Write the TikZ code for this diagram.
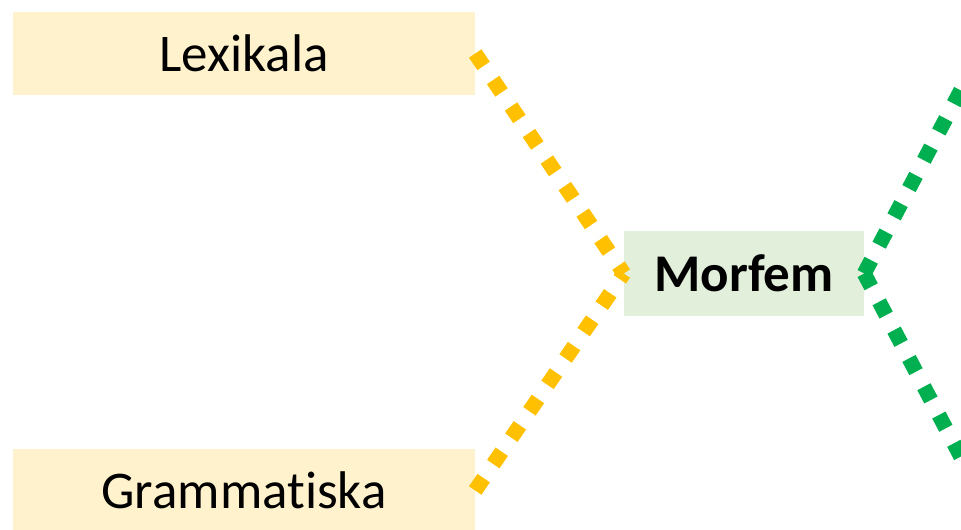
\documentclass[tikz,border=0pt]{standalone}
\usepackage{fontspec}
\setmainfont{Carlito}[Ligatures={NoCommon}]
\definecolor{boxyellow}{HTML}{FFF2CC}
\definecolor{boxgreen}{HTML}{E2EFDA}
\definecolor{lineyellow}{HTML}{FFC000}
\definecolor{linegreen}{HTML}{00B050}
\begin{document}
\begin{tikzpicture}[x=1pt,y=-1pt,
  catbox/.style={fill=boxyellow, draw=none, minimum width=462pt, minimum height=83pt, inner sep=0pt, font=\fontsize{53}{62}\selectfont},
  mainbox/.style={fill=boxgreen, draw=none, minimum width=240pt, minimum height=85pt, inner sep=0pt, font=\fontsize{53}{62}\selectfont\bfseries},
  yconn/.style={draw=lineyellow, line width=15pt, dash pattern=on 15pt off 17pt},
  gconn/.style={draw=linegreen, line width=15pt, dash pattern=on 15pt off 17pt}]
\clip (0,0) rectangle (961,530);
\node[catbox] (lex) at (244,53.5) {Lexikala};
\node[catbox] (gram) at (244,490.5) {Grammatiska};
\node[mainbox] (morf) at (744,273.5) {Morfem};
\coordinate (gup) at (990,35);
\coordinate (gdown) at (990,512);
\draw[yconn] (lex.east) -- (morf.west);
\draw[yconn] (gram.east) -- (morf.west);
\draw[gconn] (morf.east) -- (gup);
\draw[gconn] (morf.east) -- (gdown);
\end{tikzpicture}
\end{document}
